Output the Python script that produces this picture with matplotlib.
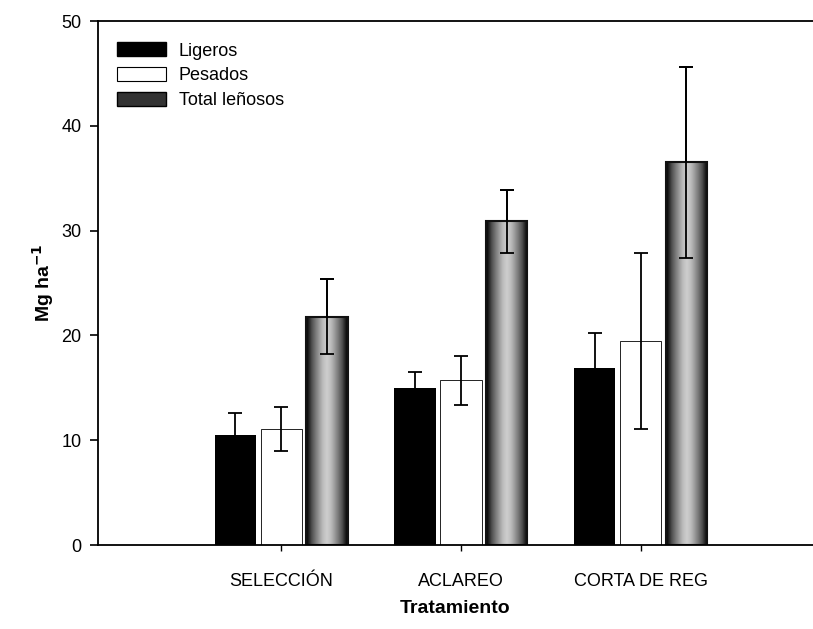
import numpy as np
import matplotlib
matplotlib.use("Agg")
import matplotlib.pyplot as plt
from matplotlib.patches import Patch

plt.rcParams['font.family'] = ['Liberation Sans', 'DejaVu Sans']

categories = ["SELECCIÓN", "ACLAREO", "CORTA DE REG"]
series_names = ["Ligeros", "Pesados", "Total leñosos"]
ligeros = [10.5, 15.0, 16.9]
ligeros_err = [2.1, 1.5, 3.3]
pesados = [11.1, 15.7, 19.5]
pesados_err = [2.1, 2.3, 8.4]
total = [21.8, 30.9, 36.5]
total_err = [3.6, 3.0, 9.1]
yticks = [0, 10, 20, 30, 40, 50]

fig = plt.figure(figsize=(8.13, 6.29), dpi=100)
ax = fig.add_axes([0.1205, 0.1335, 0.8795, 0.8331])

x = np.arange(len(categories))
w = 0.23
off = 0.255

err_kw = dict(ecolor='black', elinewidth=1.3, capsize=5, capthick=1.3)

b1 = ax.bar(x - off, ligeros, w, color='black', yerr=ligeros_err,
            error_kw=err_kw, zorder=2)
b2 = ax.bar(x, pesados, w, color='white', edgecolor='black', linewidth=0.6,
            yerr=pesados_err, error_kw=err_kw, zorder=2)
b3 = ax.bar(x + off, total, w, color='#6e6e6e', yerr=total_err,
            error_kw=err_kw, zorder=2)

# shaded fill for the total bars: dark rims, grey centre
gx = np.linspace(-1, 1, 64)
shade = np.abs(gx) ** 1.4
grad = np.tile(shade, (64, 1))
for rect in b3:
    x0, y0 = rect.get_x(), rect.get_y()
    im = ax.imshow(grad, cmap='Greys', vmin=-0.45, vmax=1.0,
                   extent=[x0, x0 + rect.get_width(), y0, y0 + rect.get_height()],
                   aspect='auto', zorder=2.1, interpolation='bilinear')
    im.set_clip_path(rect)
    rect.set_edgecolor('#111111')
    rect.set_linewidth(1.5)
    rect.set_zorder(2.2)
    rect.set_facecolor('none')

# redraw error bars of total on top of the shading
ax.errorbar(x + off, total, yerr=total_err, fmt='none', zorder=3, **err_kw)

ax.set_xlim(-1.02, 2.96)
ax.set_ylim(0, 50)
ax.set_yticks(yticks)
ax.set_xticks(x)
ax.set_xticklabels(categories, fontsize=13)
ax.tick_params(axis='y', direction='out', length=6, width=1.2, labelsize=13, pad=6)
ax.tick_params(axis='x', direction='out', length=4, width=1, pad=16)

ax.spines['right'].set_visible(False)
for s in ['left', 'bottom', 'top']:
    ax.spines[s].set_linewidth(1.3)

ax.set_ylabel("Mg ha$^{\\mathbf{-1}}$", fontsize=14, fontweight='bold', labelpad=4)
ax.set_xlabel("Tratamiento", fontsize=14, fontweight='bold', labelpad=7)

handles = [Patch(facecolor='black', edgecolor='black'),
           Patch(facecolor='white', edgecolor='black', linewidth=0.8),
           Patch(facecolor='#333333', edgecolor='black')]
ax.legend(handles, series_names, loc='upper left', bbox_to_anchor=(0.012, 0.98),
          frameon=False, fontsize=13, handlelength=2.7, handleheight=0.8,
          handletextpad=0.7, labelspacing=0.42, borderaxespad=0.2)

fig.savefig("out.png", dpi=100)
